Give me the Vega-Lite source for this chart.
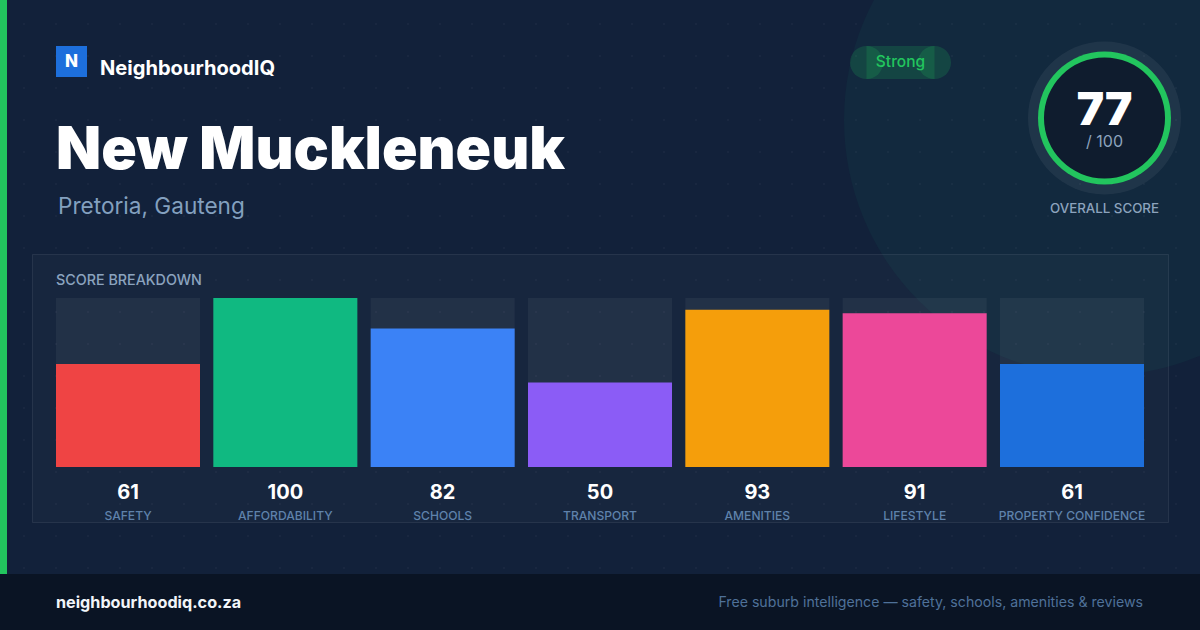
{
  "$schema": "https://vega.github.io/schema/vega-lite/v6.json",
  "width": 1200,
  "height": 630,
  "padding": 0,
  "autosize": {"type": "none"},
  "background": "#12213a",
  "config": {"view": {"stroke": null}, "text": {"font": "Inter", "baseline": "alphabetic"}},
  "data": {"values": [{"card": "New Muckleneuk"}]},
  "resolve": {"scale": {"y": "independent", "x": "independent", "color": "independent"}},
  "layer": [
    {"mark": {"type": "arc", "x": 1100, "y": 120, "radius": 256, "theta": 0, "theta2": 6.2832, "fill": "#10c48a", "opacity": 0.05}, "encoding": {}},
    {
      "data": {"values": [{"row": 1}, {"row": 2}, {"row": 3}, {"row": 4}, {"row": 5}, {"row": 6}, {"row": 7}, {"row": 8}, {"row": 9}, {"row": 10}, {"row": 11}, {"row": 12}, {"row": 13}, {"row": 14}, {"row": 15}, {"row": 16}, {"row": 17}, {"row": 18}]},
      "mark": {"type": "rule", "x": 0, "x2": 1200, "stroke": "#ffffff", "strokeWidth": 2, "strokeOpacity": 0.03, "strokeDash": [2, 30], "strokeDashOffset": 9},
      "encoding": {"y": {"field": "row", "type": "ordinal", "axis": null, "scale": {"type": "point", "range": [24, 568], "padding": 0}}}
    },
    {"mark": {"type": "rect", "x": 0, "x2": 7, "y": 0, "y2": 574, "fill": "#22c55e"}, "encoding": {}},
    {"mark": {"type": "rect", "x": 0, "x2": 1200, "y": 574, "y2": 630, "fill": "#0a1424"}, "encoding": {}},
    {"mark": {"type": "rule", "x": 0, "x2": 1200, "y": 574.5, "stroke": "#16212f", "strokeWidth": 1}, "encoding": {}},
    {"mark": {"type": "rect", "x": 32.5, "x2": 1168.5, "y": 254.5, "y2": 522.5, "fill": "#ffffff", "fillOpacity": 0.025, "stroke": "#ffffff", "strokeOpacity": 0.08, "strokeWidth": 1}, "encoding": {}},
    {"mark": {"type": "rect", "x": 56, "x2": 87, "y": 46, "y2": 77, "fill": "#1d6fdc"}, "encoding": {}},
    {"data": {"values": [{"t": "N"}]}, "mark": {"type": "text", "x": 71.5, "y": 67, "align": "center", "fontSize": 17, "fontWeight": 800, "fill": "#ffffff"}, "encoding": {"text": {"field": "t"}}},
    {"data": {"values": [{"t": "NeighbourhoodIQ"}]}, "mark": {"type": "text", "x": 100, "y": 75, "align": "left", "fontSize": 20.1, "fontWeight": 700, "fill": "#ffffff"}, "encoding": {"text": {"field": "t"}}},
    {"data": {"values": [{"t": "New Muckleneuk"}]}, "mark": {"type": "text", "x": 56, "y": 169, "align": "left", "fontSize": 58.7, "fontWeight": 900, "fill": "#ffffff"}, "encoding": {"text": {"field": "t"}}},
    {"data": {"values": [{"t": "Pretoria, Gauteng"}]}, "mark": {"type": "text", "x": 58, "y": 214, "align": "left", "fontSize": 22.6, "fontWeight": 400, "fill": "#83a0bf"}, "encoding": {"text": {"field": "t"}}},
    {"mark": {"type": "arc", "x": 866.5, "y": 62.5, "radius": 16.5, "theta": 0, "theta2": 6.2832, "fill": "#22c55e", "opacity": 0.18}, "encoding": {}},
    {"mark": {"type": "arc", "x": 934.5, "y": 62.5, "radius": 16.5, "theta": 0, "theta2": 6.2832, "fill": "#22c55e", "opacity": 0.18}, "encoding": {}},
    {"mark": {"type": "rect", "x": 866.5, "x2": 934.5, "y": 46, "y2": 79, "fill": "#22c55e", "opacity": 0.18}, "encoding": {}},
    {"data": {"values": [{"t": "Strong"}]}, "mark": {"type": "text", "x": 900.5, "y": 67, "align": "center", "fontSize": 15.5, "fontWeight": 500, "fill": "#22c55e"}, "encoding": {"text": {"field": "t"}}},
    {"mark": {"type": "arc", "x": 1104.5, "y": 118, "radius": 76.5, "theta": 0, "theta2": 6.2832, "fill": "#ffffff", "opacity": 0.06}, "encoding": {}},
    {"mark": {"type": "arc", "x": 1104.5, "y": 118, "radius": 66.5, "theta": 0, "theta2": 6.2832, "fill": "#22c55e"}, "encoding": {}},
    {"mark": {"type": "arc", "x": 1104.5, "y": 118, "radius": 60.5, "theta": 0, "theta2": 6.2832, "fill": "#0f1c2e"}, "encoding": {}},
    {"data": {"values": [{"t": "77"}]}, "mark": {"type": "text", "x": 1104.5, "y": 125, "align": "center", "fontSize": 46, "fontWeight": 900, "fill": "#ffffff"}, "encoding": {"text": {"field": "t"}}},
    {"data": {"values": [{"t": "/ 100"}]}, "mark": {"type": "text", "x": 1104.5, "y": 147, "align": "center", "fontSize": 16, "fill": "#8ca3bd"}, "encoding": {"text": {"field": "t"}}},
    {"data": {"values": [{"t": "OVERALL SCORE"}]}, "mark": {"type": "text", "x": 1104.5, "y": 213, "align": "center", "fontSize": 13.3, "fontWeight": 500, "fill": "#8ca3bd"}, "encoding": {"text": {"field": "t"}}},
    {"data": {"values": [{"t": "SCORE BREAKDOWN"}]}, "mark": {"type": "text", "x": 56, "y": 285, "align": "left", "fontSize": 14.3, "fontWeight": 500, "fill": "#8ba3bf"}, "encoding": {"text": {"field": "t"}}},
    {"data": {"values": [{"t": "neighbourhoodiq.co.za"}]}, "mark": {"type": "text", "x": 56, "y": 608, "align": "left", "fontSize": 16.2, "fontWeight": 700, "fill": "#f1f5f9"}, "encoding": {"text": {"field": "t"}}},
    {"data": {"values": [{"t": "Free suburb intelligence — safety, schools, amenities & reviews"}]}, "mark": {"type": "text", "x": 1143, "y": 607, "align": "right", "fontSize": 14.17, "fill": "#4f7199"}, "encoding": {"text": {"field": "t"}}},
    {
      "data": {"values": [
        {"category": "SAFETY", "score": 61},
        {"category": "AFFORDABILITY", "score": 100},
        {"category": "SCHOOLS", "score": 82},
        {"category": "TRANSPORT", "score": 50},
        {"category": "AMENITIES", "score": 93},
        {"category": "LIFESTYLE", "score": 91},
        {"category": "PROPERTY CONFIDENCE", "score": 61}
      ]},
      "encoding": {
        "x": {
          "field": "category",
          "type": "nominal",
          "axis": null,
          "sort": null,
          "scale": {"type": "band", "range": [56, 1144], "paddingInner": 0.0847, "paddingOuter": 0}
        }
      },
      "layer": [
        {
          "mark": {"type": "bar", "fill": "#ffffff", "fillOpacity": 0.05},
          "encoding": {
            "y": {"datum": 100, "type": "quantitative", "axis": null, "scale": {"domain": [0, 100], "range": [467, 298]}},
            "y2": {"datum": 0}
          }
        },
        {
          "mark": {"type": "bar"},
          "encoding": {
            "y": {"field": "score", "type": "quantitative", "axis": null, "scale": {"domain": [0, 100], "range": [467, 298]}},
            "color": {
              "field": "category",
              "type": "nominal",
              "legend": null,
              "sort": null,
              "scale": {"range": ["#ef4444", "#10b981", "#3b82f6", "#8b5cf6", "#f59e0b", "#ec4899", "#1d6fdc"]}
            }
          }
        },
        {
          "mark": {"type": "text", "dy": 32, "align": "center", "fontSize": 20, "fontWeight": 700, "fill": "#ffffff"},
          "encoding": {
            "y": {"datum": 0, "type": "quantitative", "axis": null, "scale": {"domain": [0, 100], "range": [467, 298]}},
            "text": {"field": "score", "type": "quantitative"}
          }
        },
        {
          "mark": {"type": "text", "dy": 53, "align": "center", "fontSize": 12.1, "fontWeight": 500, "fill": "#5f82ab"},
          "encoding": {
            "y": {"datum": 0, "type": "quantitative", "axis": null, "scale": {"domain": [0, 100], "range": [467, 298]}},
            "text": {"field": "category", "type": "nominal"}
          }
        }
      ]
    }
  ]
}
